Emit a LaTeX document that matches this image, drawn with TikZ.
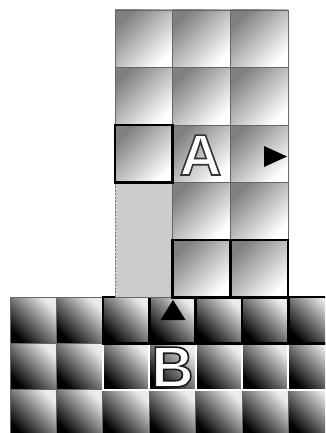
\documentclass[tikz,border=0pt]{standalone}
\usepackage{fontspec}
\setmainfont{Liberation Sans}
\newcommand{\outlinedletter}[2]{{\color{white}\special{pdf:literal direct 2 Tr 1.6 w #1 G}#2\special{pdf:literal direct 0 Tr 0 G}}}
\begin{document}
\begin{tikzpicture}[x=1pt,y=-1pt,
  upcell/.style={top color=black!50, middle color=black!6, bottom color=white, shading angle=45},
  locell/.style={top color=black!8, bottom color=black, shading angle=-45},
  gridline/.style={draw=black!60, line width=0.9pt},
  boldbox/.style={draw=black, line width=2.6pt},
  whitebox/.style={draw=white, line width=2pt},
  letter/.style={inner sep=0pt, anchor=base, font=\fontsize{58}{60}\selectfont\bfseries}
]
\useasboundingbox (0,0) rectangle (325,433);
\clip (0,0) rectangle (325,433);
% lower grid
\foreach \r in {0,1,2} {
  \foreach \c in {0,...,6} {
    \shade[locell] ({10+46.4*\c},{297+46.4*\r}) rectangle +(46.4,46.4);
    \draw[gridline] ({10+46.4*\c},{297+46.4*\r}) rectangle +(46.4,46.4);
  }
}
\foreach \c in {2,...,6} {
  \draw[whitebox] ({10+46.4*\c},343.4) rectangle +(46.4,46.4);
}
\foreach \c in {2,...,6} {
  \draw[boldbox] ({10+46.4*\c},297) rectangle +(46.4,46.4);
}
% upper grid
\foreach \r in {0,...,4} {
  \foreach \c in {0,1,2} {
    \shade[upcell] ({115+57.67*\c},{10+57.5*\r}) rectangle +(57.67,57.5);
    \draw[gridline] ({115+57.67*\c},{10+57.5*\r}) rectangle +(57.67,57.5);
  }
}
% grey gap
\fill[black!20] (115,182.5) rectangle (172.67,297);
\draw[black!55, line width=0.8pt, dash pattern=on 2pt off 1.5pt] (115,182.5) -- (115,297);
\draw[gridline] (172.67,182.5) -- (172.67,297);
% bold boxes
\draw[boldbox] (115,125) rectangle +(57.67,57.5);
\draw[boldbox] (172.67,240) rectangle +(57.67,57.5);
\draw[boldbox] (230.33,240) rectangle +(57.67,57.5);
% arrowheads
\fill[black] (173,300) -- (185.5,320) -- (160.5,320) -- cycle;
\fill[black] (264,146) -- (287,156.5) -- (264,167) -- cycle;
% letters
\node[letter] (A) at (200.5,175) {\outlinedletter{0.2}{A}};
\node[letter] (B) at (172.5,387) {\outlinedletter{0.1}{B}};
\end{tikzpicture}
\end{document}
